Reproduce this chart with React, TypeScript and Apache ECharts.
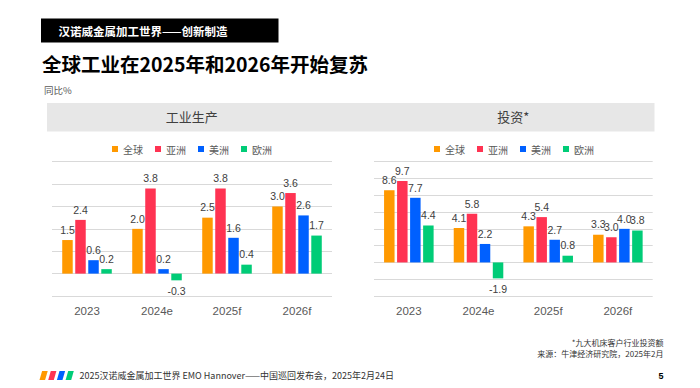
import React, { useEffect, useRef } from 'react';
import * as echarts from 'echarts';

const categories = ['2023', '2024e', '2025f', '2026f'];
const seriesNames = ['全球', '亚洲', '美洲', '欧洲'];
const seriesColors = ['#FF9900', '#FF3352', '#0060FF', '#00CC77'];

const productionGlobal = [1.5, 2.0, 2.5, 3.0];
const productionAsia = [2.4, 3.8, 3.8, 3.6];
const productionAmericas = [0.6, 0.2, 1.6, 2.6];
const productionEurope = [0.2, -0.3, 0.4, 1.7];

const investGlobal = [8.6, 4.1, 4.3, 3.3];
const investAsia = [9.7, 5.8, 5.4, 3.0];
const investAmericas = [7.7, 2.2, 2.7, 4.0];
const investEurope = [4.4, -1.9, 0.8, 3.8];

const headerText = '汉诺威金属加工世界——创新制造';
const mainTitle = '全球工业在2025年和2026年开始复苏';
const unitText = '同比%';
const leftPanelTitle = '工业生产';
const rightPanelTitle = '投资*';
const noteText = '*九大机床客户行业投资额';
const sourceText = '来源：牛津经济研究院，2025年2月';
const footerText = '2025汉诺威金属加工世界 EMO Hannover——中国巡回发布会，2025年2月24日';
const pageNumber = '5';

const LATIN = '"Liberation Sans", Arial, "Noto Sans CJK SC", sans-serif';
const CJK = '"Noto Sans CJK SC", "Liberation Sans", sans-serif';

export default function App() {
  const ref = useRef<HTMLDivElement>(null);

  useEffect(() => {
    if (!ref.current) return;
    const chart = echarts.init(ref.current, undefined, { renderer: 'svg' });

    const groups = [
      [productionGlobal, productionAsia, productionAmericas, productionEurope],
      [investGlobal, investAsia, investAmericas, investEurope],
    ];

    const series: any[] = [];
    groups.forEach((g, gi) => {
      g.forEach((vals, si) => {
        series.push({
          type: 'bar',
          name: seriesNames[si],
          xAxisIndex: gi,
          yAxisIndex: gi,
          barWidth: 10.5,
          barGap: '24%',
          itemStyle: { color: seriesColors[si] },
          label: {
            show: true,
            position: 'top',
            distance: 5,
            fontFamily: LATIN,
            fontSize: 10.5,
            color: '#404040',
            formatter: (p: any) => Number(p.value).toFixed(1),
          },
          data: vals.map((v) =>
            v < 0 ? { value: v, label: { position: 'bottom' } } : { value: v }
          ),
        });
      });
    });

    const legendCommon = {
      data: seriesNames,
      top: 144,
      padding: 0,
      icon: 'rect',
      itemWidth: 6,
      itemHeight: 6,
      itemGap: 12,
      textStyle: { fontFamily: CJK, fontSize: 10, color: '#595959' },
      selectedMode: false,
    };

    const logoX0 = 39.5;
    const logo = seriesColors.map((c, i) => {
      const x = logoX0 + i * 8.7;
      return {
        type: 'polygon',
        shape: {
          points: [
            [x + 2.6, 371],
            [x + 8.2, 371],
            [x + 5.6, 380],
            [x, 380],
          ],
        },
        style: { fill: c },
      };
    });

    chart.setOption({
      animation: false,
      backgroundColor: '#ffffff',
      legend: [
        { ...legendCommon, left: 112 },
        { ...legendCommon, left: 434 },
      ],
      grid: [
        { left: 52, right: 368, top: 161.7, bottom: 92, containLabel: false },
        { left: 374, right: 47.3, top: 161.7, bottom: 92, containLabel: false },
      ],
      xAxis: [0, 1].map((i) => ({
        type: 'category',
        gridIndex: i,
        data: categories,
        axisLine: { show: false, onZero: false },
        axisTick: { show: false },
        axisLabel: {
          margin: 9,
          fontFamily: LATIN,
          fontSize: 11.5,
          color: '#595959',
        },
      })),
      yAxis: [
        { min: -1, max: 5, interval: 1 },
        { min: -4, max: 12, interval: 2 },
      ].map((r, i) => ({
        type: 'value',
        gridIndex: i,
        ...r,
        axisLabel: { show: false },
        axisLine: { show: false },
        axisTick: { show: false },
        splitLine: { show: true, lineStyle: { color: '#d9d9d9', width: 1 } },
      })),
      series,
      graphic: [
        {
          type: 'rect',
          shape: { x: 41, y: 18.5, width: 237.5, height: 24 },
          style: { fill: '#000000' },
        },
        {
          type: 'text',
          x: 58.5,
          y: 31,
          style: {
            text: headerText,
            fill: '#ffffff',
            font: `bold 11.5px ${CJK}`,
            verticalAlign: 'middle',
          },
        },
        {
          type: 'text',
          x: 42,
          y: 63.5,
          style: {
            text: mainTitle,
            fill: '#000000',
            font: `bold 19.5px ${CJK}`,
            verticalAlign: 'middle',
          },
        },
        {
          type: 'text',
          x: 44,
          y: 90,
          style: {
            text: unitText,
            fill: '#595959',
            font: `9.5px ${CJK}`,
            verticalAlign: 'middle',
          },
        },
        {
          type: 'rect',
          shape: { x: 47, y: 103, width: 607.5, height: 28.5 },
          style: { fill: '#e7e7e7' },
          z: -1,
        },
        {
          type: 'text',
          x: 191.7,
          y: 116.7,
          style: {
            text: leftPanelTitle,
            fill: '#404040',
            font: `13px ${CJK}`,
            align: 'center',
            verticalAlign: 'middle',
          },
        },
        {
          type: 'text',
          x: 513.3,
          y: 116.7,
          style: {
            text: rightPanelTitle,
            fill: '#404040',
            font: `13px ${CJK}`,
            align: 'center',
            verticalAlign: 'middle',
          },
        },
        {
          type: 'text',
          x: 663.5,
          y: 342,
          style: {
            text: noteText,
            fill: '#333333',
            font: `8px ${CJK}`,
            lineHeight: 9,
            align: 'right',
            verticalAlign: 'middle',
          },
        },
        {
          type: 'text',
          x: 663.5,
          y: 353,
          style: {
            text: sourceText,
            fill: '#333333',
            font: `8px ${CJK}`,
            lineHeight: 9,
            align: 'right',
            verticalAlign: 'middle',
          },
        },
        ...logo,
        {
          type: 'text',
          x: 79.5,
          y: 375.7,
          style: {
            text: footerText,
            fill: '#333333',
            font: `9px ${CJK}`,
            verticalAlign: 'middle',
          },
        },
        {
          type: 'text',
          x: 663.5,
          y: 375.7,
          style: {
            text: pageNumber,
            fill: '#000000',
            font: `bold 9px ${LATIN}`,
            align: 'right',
            verticalAlign: 'middle',
          },
        },
      ],
    });

    return () => {
      chart.dispose();
    };
  }, []);

  return (
    <div
      ref={ref}
      style={{ position: 'fixed', left: 0, top: 0, width: 700, height: 388, background: '#fff' }}
    />
  );
}
